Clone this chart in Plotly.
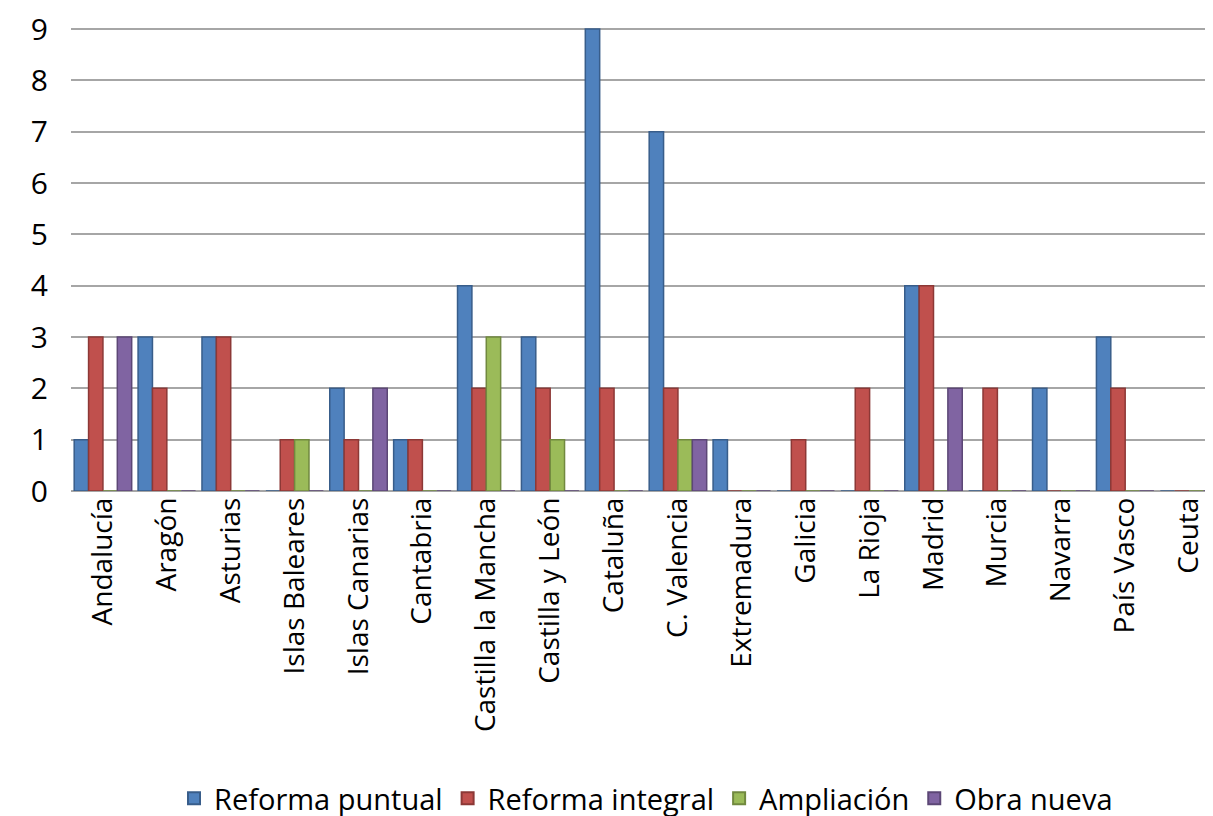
import plotly.graph_objects as go

categories = ["Andalucía", "Aragón", "Asturias", "Islas Baleares", "Islas Canarias",
              "Cantabria", "Castilla la Mancha", "Castilla y León", "Cataluña",
              "C. Valencia", "Extremadura", "Galicia", "La Rioja", "Madrid",
              "Murcia", "Navarra", "País Vasco", "Ceuta"]
reforma_puntual = [1, 3, 3, 0, 2, 1, 4, 3, 9, 7, 1, 0, 0, 4, 0, 2, 3, 0]
reforma_integral = [3, 2, 3, 1, 1, 1, 2, 2, 2, 2, 0, 1, 2, 4, 2, 0, 2, 0]
ampliacion = [0, 0, 0, 1, 0, 0, 3, 1, 0, 1, 0, 0, 0, 0, 0, 0, 0, 0]
obra_nueva = [3, 0, 0, 0, 2, 0, 0, 0, 0, 1, 0, 0, 0, 2, 0, 0, 0, 0]
y_ticks = list(range(0, 10))

series = [
    ("Reforma puntual", reforma_puntual, "#4F81BD", "#385D8A"),
    ("Reforma integral", reforma_integral, "#C0504D", "#8C3836"),
    ("Ampliación", ampliacion, "#9BBB59", "#71893F"),
    ("Obra nueva", obra_nueva, "#8064A2", "#5C4776"),
]

FONT = "Open Sans, sans-serif"

fig = go.Figure()
for name, vals, col, edge in series:
    fig.add_trace(go.Bar(
        x=categories, y=vals, name=name,
        marker=dict(color=col, line=dict(color=edge, width=1.5)),
    ))

fig.update_layout(
    width=1213, height=816,
    margin=dict(l=63, r=0, t=11, b=328),
    paper_bgcolor="white", plot_bgcolor="white",
    barmode="group", bargap=0.1, bargroupgap=0.0,
    font=dict(family=FONT, size=24, color="black"),
    showlegend=True,
    legend=dict(orientation="h", x=0.5, xanchor="center", y=-0.665, yanchor="middle",
                font=dict(size=29), itemsizing="constant"),
    xaxis=dict(tickangle=-90, tickfont=dict(size=28), showgrid=False,
               showline=False, ticks=""),
    yaxis=dict(range=[0, 9.04], tickvals=y_ticks, tickfont=dict(size=30),
               showgrid=True, gridcolor="#A6A6A6", gridwidth=2,
               zeroline=True, zerolinecolor="#A6A6A6", zerolinewidth=2,
               showline=False, ticks="", ticklabelstandoff=22,
               ticklabeloverflow="allow"),
)

fig.write_html("out.html")
